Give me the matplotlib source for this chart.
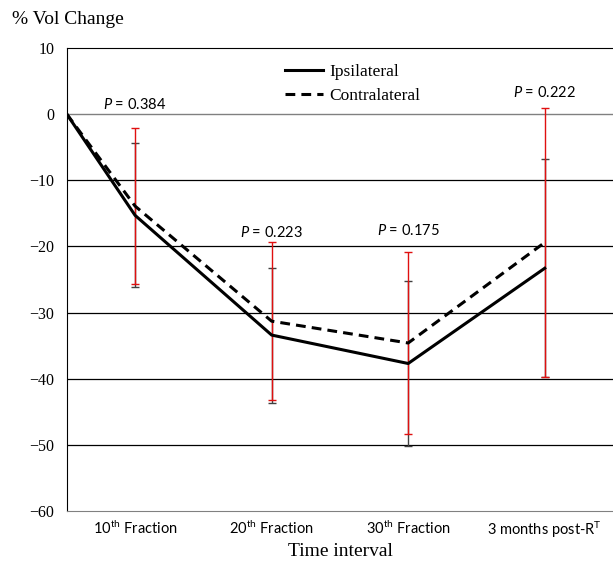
import matplotlib
matplotlib.use("Agg")
from matplotlib import pyplot as plt

# data
categories = ["", r"10$^{\mathregular{th}}$ Fraction", r"20$^{\mathregular{th}}$ Fraction",
              r"30$^{\mathregular{th}}$ Fraction", r"3 months post-R$^{\mathregular{T}}$"]
ipsi = [0, -15.3, -33.4, -37.7, -23.3]
contra = [0, -13.9, -31.3, -34.6, -19.4]
ipsi_err = [0, 10.9, 10.2, 12.5, 16.5]
contra_err = [0, 11.8, 11.9, 13.8, 20.4]
p_labels = ["0.384", "0.223", "0.175", "0.222"]
p_y = [0.3, -19.1, -18.7, 2.1]

plt.rcParams['mathtext.fontset'] = 'custom'
plt.rcParams['mathtext.rm'] = 'Lato'
plt.rcParams['mathtext.it'] = 'Lato:italic'

fig = plt.figure(figsize=(6.13, 5.63), dpi=100)
ax = fig.add_axes([0.109, 0.0924, 0.891, 0.8223])

x = [0.5, 1, 2, 3, 4]

ax.errorbar(x[1:], ipsi[1:], yerr=ipsi_err[1:], fmt='none', ecolor='#404040',
            elinewidth=1, capsize=3, capthick=1, zorder=2)
ax.errorbar(x[1:], contra[1:], yerr=contra_err[1:], fmt='none', ecolor='#e01010',
            elinewidth=1, capsize=3, capthick=1, zorder=3)
ax.plot(x, ipsi, color='black', linewidth=2.2, label='Ipsilateral', zorder=4)
ax.plot(x, contra, color='black', linewidth=2.2, linestyle=(0, (3.2, 2)),
        label='Contralateral', zorder=4)

for i, p in enumerate(p_labels):
    ax.text(x[i + 1], p_y[i], r"$\mathit{P}$ = " + p, ha='center', va='bottom',
            fontsize=10.5, family='Lato')

ax.set_xlim(0.5, 4.5)
ax.set_ylim(-60, 10)
yt = list(range(-60, 11, 10))
ax.set_yticks(yt)
ax.set_xticks(x[1:])
ax.set_xticklabels(categories[1:], family='Lato', fontsize=10.5)
ax.set_yticklabels([str(v).replace('-', '\u2212') for v in yt],
                   family='Liberation Serif', fontsize=11.5)
ax.tick_params(length=0)
ax.tick_params(axis='x', pad=6)
ax.tick_params(axis='y', pad=9)

for v in range(-50, 0, 10):
    ax.axhline(v, color='black', linewidth=0.9, zorder=1)
ax.axhline(0, color='#808080', linewidth=1.0, zorder=1)

ax.spines['right'].set_visible(False)
ax.spines['bottom'].set_color('#808080')
ax.spines['top'].set_color('black')
ax.spines['left'].set_color('black')

fig.text(0.555, 1 - 551 / 563, "Time interval", family='Liberation Serif', fontsize=14,
         ha='center', va='center')
fig.text(0.02, 0.965, "% Vol Change", family='Liberation Serif', fontsize=14,
         ha='left', va='center')

leg = ax.legend(loc='upper left', bbox_to_anchor=(0.37, 1.0), frameon=False,
                prop={'family': 'Liberation Serif', 'size': 12.5},
                handlelength=2.2, labelspacing=0.45, handletextpad=0.4)

fig.savefig("out.png", dpi=100)
